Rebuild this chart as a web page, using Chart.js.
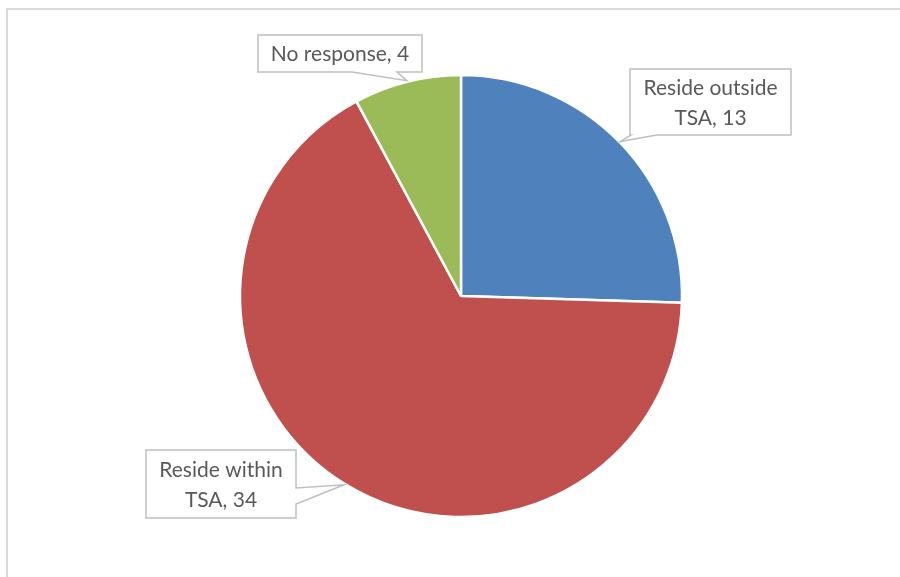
<!DOCTYPE html>
<html>
<head>
<meta charset="utf-8">
<script src="https://cdn.jsdelivr.net/npm/chart.js@4"></script>
<style>
  html, body { margin: 0; padding: 0; background: #fff; overflow: hidden; }
  #frame { position: absolute; left: 6px; top: 8px; width: 1000px; height: 1000px; border: 2px solid #d9d9d9; }
  #wrap { position: absolute; left: 0; top: 0; width: 900px; height: 577px; }
</style>
</head>
<body>
<div id="frame"></div>
<div id="wrap"><canvas id="chart" width="900" height="577"></canvas></div>
<script>
let categories = ["Reside outside TSA", "Reside within TSA", "No response"];
let values = [13, 34, 4];
let labelLines = [["Reside outside", "TSA, 13"], ["Reside within", "TSA, 34"], ["No response, 4"]];
let colors = ["#4F81BD", "#C0504D", "#9BBB59"];

// callout boxes: rect + which edge the pointer leaves from
let callouts = [
  { x: 630, y: 69, w: 161, h: 66, edge: "bottom", base: [631, 657] },
  { x: 146, y: 450, w: 150, h: 68, edge: "right", base: [488, 504] },
  { x: 258, y: 35, w: 164, h: 37, edge: "bottom", base: [352, 397] }
];

const calloutPlugin = {
  id: "callouts",
  afterDatasetsDraw(chart) {
    const ctx = chart.ctx;
    const meta = chart.getDatasetMeta(0);
    meta.data.forEach((arc, i) => {
      const c = callouts[i];
      const mid = (arc.startAngle + arc.endAngle) / 2;
      const r = arc.outerRadius + 1;
      const tx = arc.x + Math.cos(mid) * r;
      const ty = arc.y + Math.sin(mid) * r;

      ctx.save();
      ctx.beginPath();
      ctx.moveTo(c.x, c.y);
      ctx.lineTo(c.x + c.w, c.y);
      if (c.edge === "right") {
        ctx.lineTo(c.x + c.w, c.base[0]);
        ctx.lineTo(tx, ty);
        ctx.lineTo(c.x + c.w, c.base[1]);
      }
      ctx.lineTo(c.x + c.w, c.y + c.h);
      if (c.edge === "bottom") {
        ctx.lineTo(c.base[1], c.y + c.h);
        ctx.lineTo(tx, ty);
        ctx.lineTo(c.base[0], c.y + c.h);
      }
      ctx.lineTo(c.x, c.y + c.h);
      ctx.closePath();
      ctx.fillStyle = "#ffffff";
      ctx.fill();
      ctx.strokeStyle = "#bfbfbf";
      ctx.lineWidth = 1.5;
      ctx.stroke();

      ctx.fillStyle = "#595959";
      ctx.font = "21px Lato, 'Open Sans', sans-serif";
      ctx.textAlign = "center";
      ctx.textBaseline = "middle";
      const lines = labelLines[i];
      const lh = 30;
      const cy = c.y + c.h / 2 - (lines.length - 1) * lh / 2 + 1;
      lines.forEach((t, k) => ctx.fillText(t, c.x + c.w / 2, cy + k * lh));
      ctx.restore();
    });
  }
};

new Chart(document.getElementById("chart"), {
  type: "pie",
  data: {
    labels: categories,
    datasets: [{
      data: values,
      backgroundColor: colors,
      borderColor: "#ffffff",
      borderWidth: 2.5
    }]
  },
  options: {
    responsive: false,
    animation: false,
    radius: 221,
    layout: { padding: { left: 240, right: 218, top: 74, bottom: 59 } },
    plugins: {
      legend: { display: false },
      tooltip: { enabled: false }
    }
  },
  plugins: [calloutPlugin]
});
</script>
</body>
</html>
